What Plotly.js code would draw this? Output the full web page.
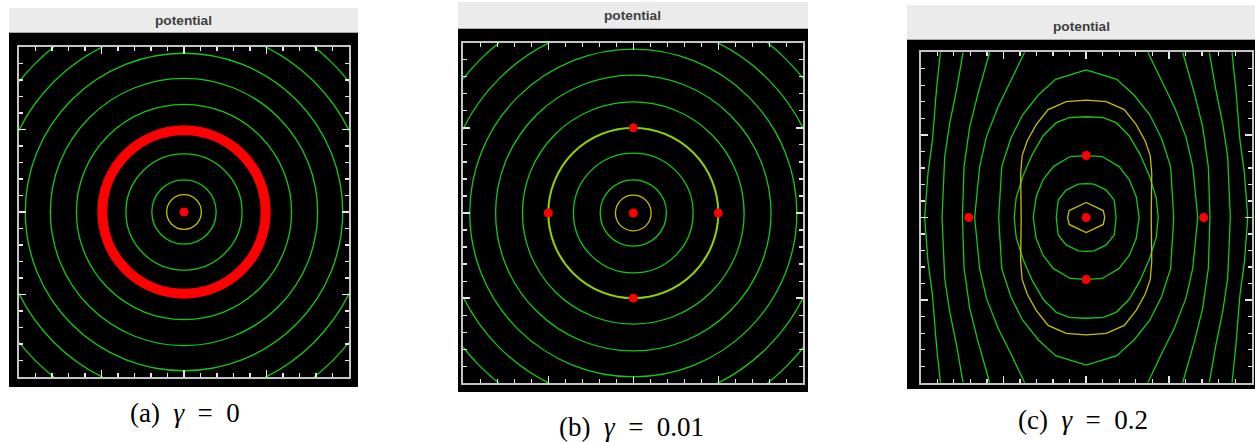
<!DOCTYPE html>
<html>
<head>
<meta charset="utf-8">
<script src="https://cdn.plot.ly/plotly-3.0.1.min.js"></script>
<style>
html, body { margin: 0; padding: 0; background: #ffffff; }
#chart { width: 1255px; height: 442px; }
</style>
</head>
<body>
<div id="chart"></div>
<script>
// ---------- data (axis units; each grid spans -10..10) ----------
const panelTitles = ['potential', 'potential', 'potential'];
const captionLabels = ['(a)', '(b)', '(c)'];
const gammaValues = ['0', '0.01', '0.2'];

// (a) gamma = 0: circular equipotentials around a ring of particles
const greenRadiiA = [1.95, 3.52, 5.0, 6.52, 8.1, 9.62, 11.16, 12.74];
const yellowRadiiA = [1.05];
const ringRadiusA = 4.95;
const particlesAx = [0];
const particlesAy = [0];

// (b) gamma = 0.01
const greenRadiiB = [1.95, 3.52, 5.0, 6.52, 8.1, 9.62, 11.16, 12.74];
const yellowRadiiB = [1.05, 5.0];
const particlesBx = [0, -5, 5, 0, 0];
const particlesBy = [0, 0, 0, 5, -5];

// (c) gamma = 0.2: one quarter of each level curve (x >= 0, y >= 0),
// listed from the top of the curve down to the horizontal midline
const openCurvesCx = [
  [8.81, 9.05, 9.29, 9.56, 9.76],
  [7.44, 7.84, 8.25, 8.55, 8.71],
  [5.83, 6.54, 7.04, 7.38, 7.48],
  [3.72, 4.62, 5.33, 6.03, 6.44, 6.74]
];
const openCurvesCy = [
  [10, 7.70, 4.68, 2.67, 0],
  [10, 7.70, 5.69, 3.67, 0],
  [10, 7.50, 5.49, 3.07, 0],
  [10, 8.11, 6.69, 4.88, 3.07, 0]
];
const closedGreenCx = [
  [0, 1.85, 2.9, 3.85, 4.55, 5.1, 5.29],
  [0, 1.03, 1.81, 2.60, 3.26, 3.81, 4.23, 4.35],
  [0, 0.97, 1.99, 2.60, 3.02, 3.20],
  [0, 0.48, 1.21, 1.69, 1.81]
];
const closedGreenCy = [
  [8.94, 8.36, 7.4, 6.2, 4.8, 3.1, 0],
  [6.10, 6.04, 5.74, 4.95, 3.81, 2.54, 1.21, 0],
  [3.75, 3.69, 3.08, 2.30, 1.27, 0],
  [2.05, 2.02, 1.66, 1.06, 0]
];
const closedYellowCx = [
  [0, 1.21, 2.30, 3.02, 3.56, 3.87, 3.96, 3.93],
  [0, 1.03, 1.12]
];
const closedYellowCy = [
  [7.10, 7.01, 6.53, 5.62, 4.65, 3.75, 2.66, 0],
  [0.91, 0.42, 0]
];
const particlesCx = [0, -7.1, 7.1, 0, 0];
const particlesCy = [0, 0, 0, 3.75, -3.75];

// ---------- styling ----------
const W = 1255, H = 442;
const GREEN = '#16c816';
const YELLOW = '#c8be00';
const RED = '#ff0000';
const LINE_W = 1.3;

// panel geometry in page pixels: outer black box, title bar, plotting frame, caption
const panels = [
  { box: [9, 33, 358, 387],   bar: [9, 8, 358, 33],    frame: [19, 47, 349, 377],       titleY: 20.5, cap: [185, 413] },
  { box: [458, 29, 808, 392], bar: [458, 2, 808, 29],  frame: [463.3, 42.7, 803.3, 383.3], titleY: 15.5, cap: [631, 427] },
  { box: [907, 40, 1255, 389], bar: [907, 5, 1255, 40], frame: [920.7, 52.3, 1251.7, 382.7], titleY: 26, cap: [1083, 420] }
];

const fx = px => px / W;
const fy = py => 1 - py / H;

// mirror a quarter curve into a closed loop
function closedLoop(qx, qy) {
  const xs = [], ys = [];
  const n = qx.length;
  for (let i = 0; i < n; i++) { xs.push(qx[i]); ys.push(qy[i]); }
  for (let i = n - 2; i >= 0; i--) { xs.push(qx[i]); ys.push(-qy[i]); }
  for (let i = 1; i < n; i++) { xs.push(-qx[i]); ys.push(-qy[i]); }
  for (let i = n - 2; i >= 0; i--) { xs.push(-qx[i]); ys.push(qy[i]); }
  return { xs, ys };
}
// mirror a quarter curve into a top-to-bottom curve on one side
function openBranch(qx, qy, side) {
  const xs = [], ys = [];
  const n = qx.length;
  for (let i = 0; i < n; i++) { xs.push(side * qx[i]); ys.push(qy[i]); }
  for (let i = n - 2; i >= 0; i--) { xs.push(side * qx[i]); ys.push(-qy[i]); }
  return { xs, ys };
}

const traces = [];
function lineTrace(c, color, ax) {
  traces.push({
    type: 'scatter', mode: 'lines', x: c.xs, y: c.ys,
    xaxis: 'x' + ax, yaxis: 'y' + ax,
    line: { color: color, width: LINE_W }, hoverinfo: 'skip'
  });
}
function dotTrace(xs, ys, ax) {
  traces.push({
    type: 'scatter', mode: 'markers', x: xs, y: ys,
    xaxis: 'x' + ax, yaxis: 'y' + ax,
    marker: { color: RED, size: 9, symbol: 'circle', line: { width: 0 } },
    hoverinfo: 'skip'
  });
}

// panel (c) curves
for (let k = 0; k < openCurvesCx.length; k++) {
  lineTrace(openBranch(openCurvesCx[k], openCurvesCy[k], -1), GREEN, '3');
  lineTrace(openBranch(openCurvesCx[k], openCurvesCy[k], 1), GREEN, '3');
}
for (let k = 0; k < closedGreenCx.length; k++) {
  lineTrace(closedLoop(closedGreenCx[k], closedGreenCy[k]), GREEN, '3');
}
for (let k = 0; k < closedYellowCx.length; k++) {
  lineTrace(closedLoop(closedYellowCx[k], closedYellowCy[k]), YELLOW, '3');
}

// particles
dotTrace(particlesAx, particlesAy, '');
dotTrace(particlesBx, particlesBy, '2');
dotTrace(particlesCx, particlesCy, '3');

// circular level curves for (a) and (b)
const shapes = [];
function circle(r, color, width, ax) {
  shapes.push({
    type: 'circle', xref: 'x' + ax, yref: 'y' + ax,
    x0: -r, x1: r, y0: -r, y1: r,
    line: { color: color, width: width }, layer: 'below'
  });
}

// panel backgrounds and title bars
panels.forEach(p => {
  shapes.push({ type: 'rect', xref: 'paper', yref: 'paper',
    x0: fx(p.box[0]), x1: fx(p.box[2]), y0: fy(p.box[3]), y1: fy(p.box[1]),
    fillcolor: '#000000', line: { width: 0 }, layer: 'below' });
  shapes.push({ type: 'rect', xref: 'paper', yref: 'paper',
    x0: fx(p.bar[0]), x1: fx(p.bar[2]), y0: fy(p.bar[3]), y1: fy(p.bar[1]),
    fillcolor: '#ebebeb', line: { width: 0 }, layer: 'below' });
  shapes.push({ type: 'line', xref: 'paper', yref: 'paper',
    x0: fx(p.bar[0]), x1: fx(p.bar[2]), y0: fy(p.bar[3] - 0.5), y1: fy(p.bar[3] - 0.5),
    line: { color: '#a8a8a8', width: 1 }, layer: 'below' });
});

greenRadiiA.forEach(r => circle(r, GREEN, LINE_W, ''));
yellowRadiiA.forEach(r => circle(r, YELLOW, LINE_W, ''));
circle(ringRadiusA, RED, 10, '');

greenRadiiB.forEach(r => circle(r, GREEN, r === 5.0 ? 2.2 : LINE_W, '2'));
yellowRadiiB.forEach(r => circle(r, YELLOW, LINE_W, '2'));

// titles and captions
const annotations = [];
panels.forEach((p, i) => {
  annotations.push({
    xref: 'paper', yref: 'paper', x: fx((p.bar[0] + p.bar[2]) / 2), y: fy(p.titleY),
    xanchor: 'center', yanchor: 'middle', showarrow: false,
    text: '<b>' + panelTitles[i] + '</b>',
    font: { family: 'Liberation Sans, Arial, sans-serif', size: 13.7, color: '#3f3f3f' }
  });
  annotations.push({
    xref: 'paper', yref: 'paper', x: fx(p.cap[0]), y: fy(p.cap[1]),
    xanchor: 'center', yanchor: 'middle', showarrow: false,
    text: captionLabels[i] + '\u2002<i>\u03b3</i>\u2002=\u2002' + gammaValues[i],
    font: { family: 'Liberation Serif, Times New Roman, serif', size: 27, color: '#000000' }
  });
});

function axisStyle(domain, anchor) {
  return {
    domain: domain, anchor: anchor, range: [-10, 10],
    showgrid: false, zeroline: false, showticklabels: false,
    showline: true, linecolor: '#c4c4c4', linewidth: 2, mirror: 'allticks',
    ticks: 'inside', tick0: 0, dtick: 5, ticklen: 7, tickwidth: 1.5, tickcolor: '#e6e6e6',
    minor: { ticks: 'inside', dtick: 1, ticklen: 4, tickwidth: 1.2, tickcolor: '#e6e6e6', showgrid: false },
    fixedrange: true
  };
}

const layout = {
  width: W, height: H,
  margin: { l: 0, r: 0, t: 0, b: 0 },
  paper_bgcolor: '#ffffff', plot_bgcolor: '#000000',
  showlegend: false, hovermode: false,
  shapes: shapes, annotations: annotations
};
const axNames = ['', '2', '3'];
panels.forEach((p, i) => {
  const f = p.frame;
  layout['xaxis' + axNames[i]] = axisStyle([fx(f[0]), fx(f[2])], 'y' + axNames[i]);
  layout['yaxis' + axNames[i]] = axisStyle([fy(f[3]), fy(f[1])], 'x' + axNames[i]);
});

Plotly.newPlot('chart', traces, layout, { staticPlot: true, displayModeBar: false });
</script>
</body>
</html>
